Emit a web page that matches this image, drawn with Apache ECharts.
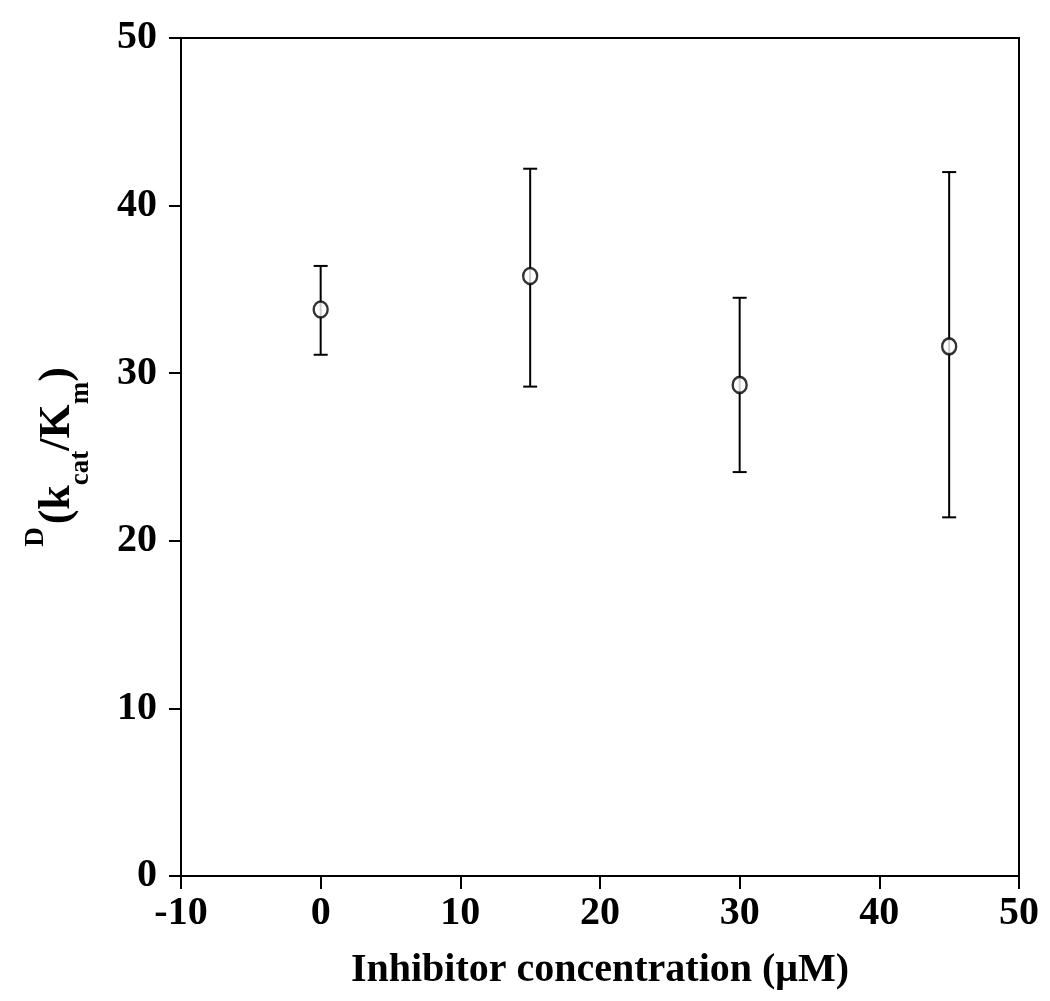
<!DOCTYPE html>
<html>
<head>
<meta charset="utf-8">
<script src="https://cdn.jsdelivr.net/npm/echarts@6/dist/echarts.min.js"></script>
<style>
html,body{margin:0;padding:0;background:#fff;}
#chart{width:1050px;height:1001px;}
</style>
</head>
<body>
<div id="chart"></div>
<script>
const concentrations = [0, 15, 30, 45];
const meanValues = [33.8, 35.8, 29.3, 31.6];
const upperValues = [36.4, 42.2, 34.5, 42.0];
const lowerValues = [31.1, 29.2, 24.1, 21.4];
const xTicks = [-10, 0, 10, 20, 30, 40, 50];
const yTicks = [0, 10, 20, 30, 40, 50];

const FONT = '"Liberation Serif", "Times New Roman", serif';
const chart = echarts.init(document.getElementById('chart'));

const points = concentrations.map((x, i) => [x, meanValues[i]]);
const bars = concentrations.map((x, i) => [x, lowerValues[i], upperValues[i]]);

chart.setOption({
  backgroundColor: '#fff',
  animation: false,
  grid: { left: 181, right: 31, top: 38, bottom: 125, containLabel: false, outerBoundsMode: 'none', show: true, borderColor: '#000', borderWidth: 2, backgroundColor: 'transparent' },
  xAxis: {
    type: 'value', min: xTicks[0], max: xTicks[xTicks.length - 1], interval: 10,
    splitLine: { show: false },
    axisLine: { onZero: false, lineStyle: { color: '#000', width: 2 } },
    axisTick: { inside: false, length: 13, lineStyle: { color: '#000', width: 2 } },
    axisLabel: { color: '#000', fontFamily: FONT, fontWeight: 'bold', fontSize: 40, margin: 18 },
    name: 'Inhibitor concentration (\u03BCM)',
    nameLocation: 'middle', nameGap: 75,
    nameTextStyle: { color: '#000', fontFamily: FONT, fontWeight: 'bold', fontSize: 40 }
  },
  yAxis: {
    type: 'value', min: yTicks[0], max: yTicks[yTicks.length - 1], interval: 10,
    splitLine: { show: false },
    axisLine: { onZero: false, lineStyle: { color: '#000', width: 2 } },
    axisTick: { inside: false, length: 12, lineStyle: { color: '#000', width: 2 } },
    axisLabel: { color: '#000', fontFamily: FONT, fontWeight: 'bold', fontSize: 40, margin: 24 },
    name: '{sup|D}{main|(k}{sub|cat}{main|/K}{sub|m}{main|)}',
    nameLocation: 'middle', nameGap: 84, nameRotate: 90,
    nameTextStyle: {
      color: '#000', fontFamily: FONT, fontWeight: 'bold', fontSize: 44,
      rich: {
        main: { fontFamily: FONT, fontWeight: 'bold', fontSize: 44, color: '#000', lineHeight: 78, verticalAlign: 'middle' },
        sub: { fontFamily: FONT, fontWeight: 'bold', fontSize: 27, color: '#000', lineHeight: 78, verticalAlign: 'bottom', padding: [0, 0, 2, 0] },
        sup: { fontFamily: FONT, fontWeight: 'bold', fontSize: 27, color: '#000', lineHeight: 78, verticalAlign: 'top', padding: [4, 3, 0, 0] }
      }
    }
  },
  series: [
    {
      type: 'custom',
      data: bars,
      renderItem: function (params, api) {
        const x = api.value(0);
        const lo = api.coord([x, api.value(1)]);
        const hi = api.coord([x, api.value(2)]);
        const hw = 7;
        const style = { stroke: '#000', lineWidth: 2 };
        return {
          type: 'group',
          children: [
            { type: 'line', shape: { x1: lo[0], y1: lo[1], x2: hi[0], y2: hi[1] }, style: style },
            { type: 'line', shape: { x1: lo[0] - hw, y1: lo[1], x2: lo[0] + hw, y2: lo[1] }, style: style },
            { type: 'line', shape: { x1: hi[0] - hw, y1: hi[1], x2: hi[0] + hw, y2: hi[1] }, style: style }
          ]
        };
      },
      z: 2
    },
    {
      type: 'scatter',
      data: points,
      symbol: 'circle',
      symbolSize: [14, 16],
      itemStyle: { color: '#fff', borderColor: '#000', borderWidth: 2.5 },
      z: 3
    }
  ]
});
</script>
</body>
</html>
